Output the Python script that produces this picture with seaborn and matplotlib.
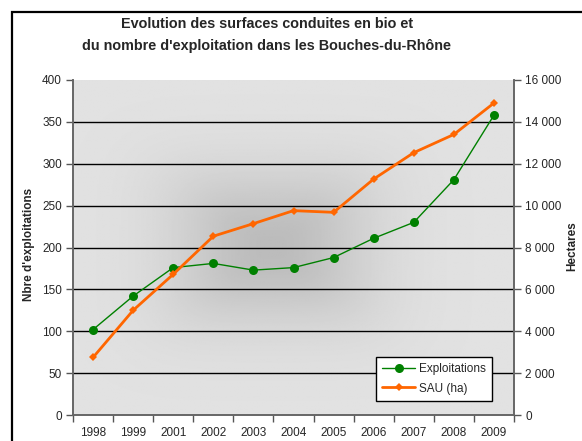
import numpy as np
import pandas as pd
import matplotlib
matplotlib.use("Agg")
import matplotlib.pyplot as plt
import seaborn as sns
from matplotlib.patches import Rectangle

years = ["1998", "1999", "2001", "2002", "2003", "2004", "2005", "2006", "2007", "2008", "2009"]
exploitations = [102, 142, 176, 181, 173, 176, 188, 211, 230, 281, 358]
sau_ha = [2750, 5000, 6720, 8540, 9140, 9760, 9680, 11270, 12530, 13400, 14900]

title = "Evolution des surfaces conduites en bio et\ndu nombre d'exploitation dans les Bouches-du-Rhône"
left_label = "Nbre d'exploitations"
right_label = "Hectares"

sns.set_theme(style="white")
plt.rcParams['font.family'] = ['Liberation Sans', 'DejaVu Sans']

df = pd.DataFrame({"pos": np.arange(len(years)), "year": years,
                   "Exploitations": exploitations, "SAU (ha)": sau_ha})

fig = plt.figure(figsize=(5.82, 4.41), dpi=100)
W, H = 582, 441
l, r, t, b = 73, 514, 80, 415
ax = fig.add_axes([l / W, 1 - b / H, (r - l) / W, (b - t) / H])
ax2 = ax.twinx()

# outer frame
fig.patches.append(Rectangle((12 / W, -0.1), 1.2, 1 - 12 / H + 0.1, transform=fig.transFigure,
                             fill=False, edgecolor="black", linewidth=1.6, zorder=0))

# gradient background
gx, gy = np.meshgrid(np.linspace(0, 1, 300), np.linspace(0, 1, 300))
val = 0.885 - 0.15 * np.exp(-(((gx - 0.45) / 0.33) ** 4 + ((gy - 0.5) / 0.33) ** 4) ** 0.5 * 2.2)
ax.imshow(val, cmap="gray", vmin=0, vmax=1, extent=(-0.5, 10.5, 0, 400), aspect="auto",
          origin="lower", zorder=0, interpolation="bilinear")

ax.set_xlim(-0.5, 10.5)
ax.set_ylim(0, 400)
ax2.set_ylim(0, 16000)

for yv in range(50, 400, 50):
    ax.axhline(yv, color="black", linewidth=1.0, zorder=1)

sns.lineplot(data=df, x="pos", y="Exploitations", ax=ax, color="#008000",
             linewidth=1.0, marker="o", markersize=6.5, markeredgewidth=0, zorder=3,
             label="Exploitations", legend=False)
sns.lineplot(data=df, x="pos", y="SAU (ha)", ax=ax2, color="#FF6600",
             linewidth=2.0, marker="D", markersize=4.5, markeredgewidth=0, zorder=3,
             label="SAU (ha)", legend=False)

ax.set_zorder(1)
ax2.set_zorder(2)
ax2.patch.set_visible(False)

ax.set_yticks(range(0, 401, 50))
ax2.set_yticks(range(0, 16001, 2000))
ax2.set_yticklabels([f"{v:,}".replace(",", " ") for v in range(0, 16001, 2000)])
ax.set_xticks(np.arange(len(years)))
ax.set_xticklabels(years)
ax.set_xticks(np.arange(-0.5, 11, 1), minor=True)
ax.tick_params(axis="x", which="major", length=0, pad=9, labelsize=8.5)
ax.tick_params(axis="x", which="minor", length=5, width=1, color="#555555", direction="out", bottom=True)
ax.tick_params(axis="y", length=5, width=1, color="#555555", direction="out", left=True, labelsize=8.5, pad=3)
ax2.tick_params(axis="y", length=5, width=1, color="#555555", direction="out", right=True, labelsize=8.5, pad=3)

for a in (ax, ax2):
    a.spines["top"].set_visible(False)
    for s in ("left", "right", "bottom"):
        a.spines[s].set_color("#666666")
        a.spines[s].set_linewidth(1.2)

ax.set_xlabel("")
ax.set_ylabel(left_label, fontsize=8.5, fontweight="bold", va="center", ha="center")
ax.yaxis.set_label_coords((29 - l) / (r - l), (b - 244) / (b - t))
ax2.set_ylabel(right_label, fontsize=8.5, fontweight="bold", rotation=90, va="center", ha="center")
ax2.yaxis.set_label_coords((572 - l) / (r - l), (b - 246) / (b - t))

fig.text(267 / W, 1 - 35 / H, title, ha="center", va="center", fontsize=10.4, fontweight="bold",
         linespacing=1.75)

h1, l1 = ax.get_legend_handles_labels()
h2, l2 = ax2.get_legend_handles_labels()
leg = ax2.legend(h1 + h2, l1 + l2, loc="lower right",
                 bbox_to_anchor=((492 - l) / (r - l), (b - 401) / (b - t)), borderaxespad=0,
                 frameon=True, fancybox=False, edgecolor="black", framealpha=1, facecolor="white",
                 fontsize=8.5, handlelength=2.8, borderpad=0.55, labelspacing=0.6, handletextpad=0.3)
leg.get_frame().set_linewidth(1.0)

fig.savefig("out.png", dpi=100)
